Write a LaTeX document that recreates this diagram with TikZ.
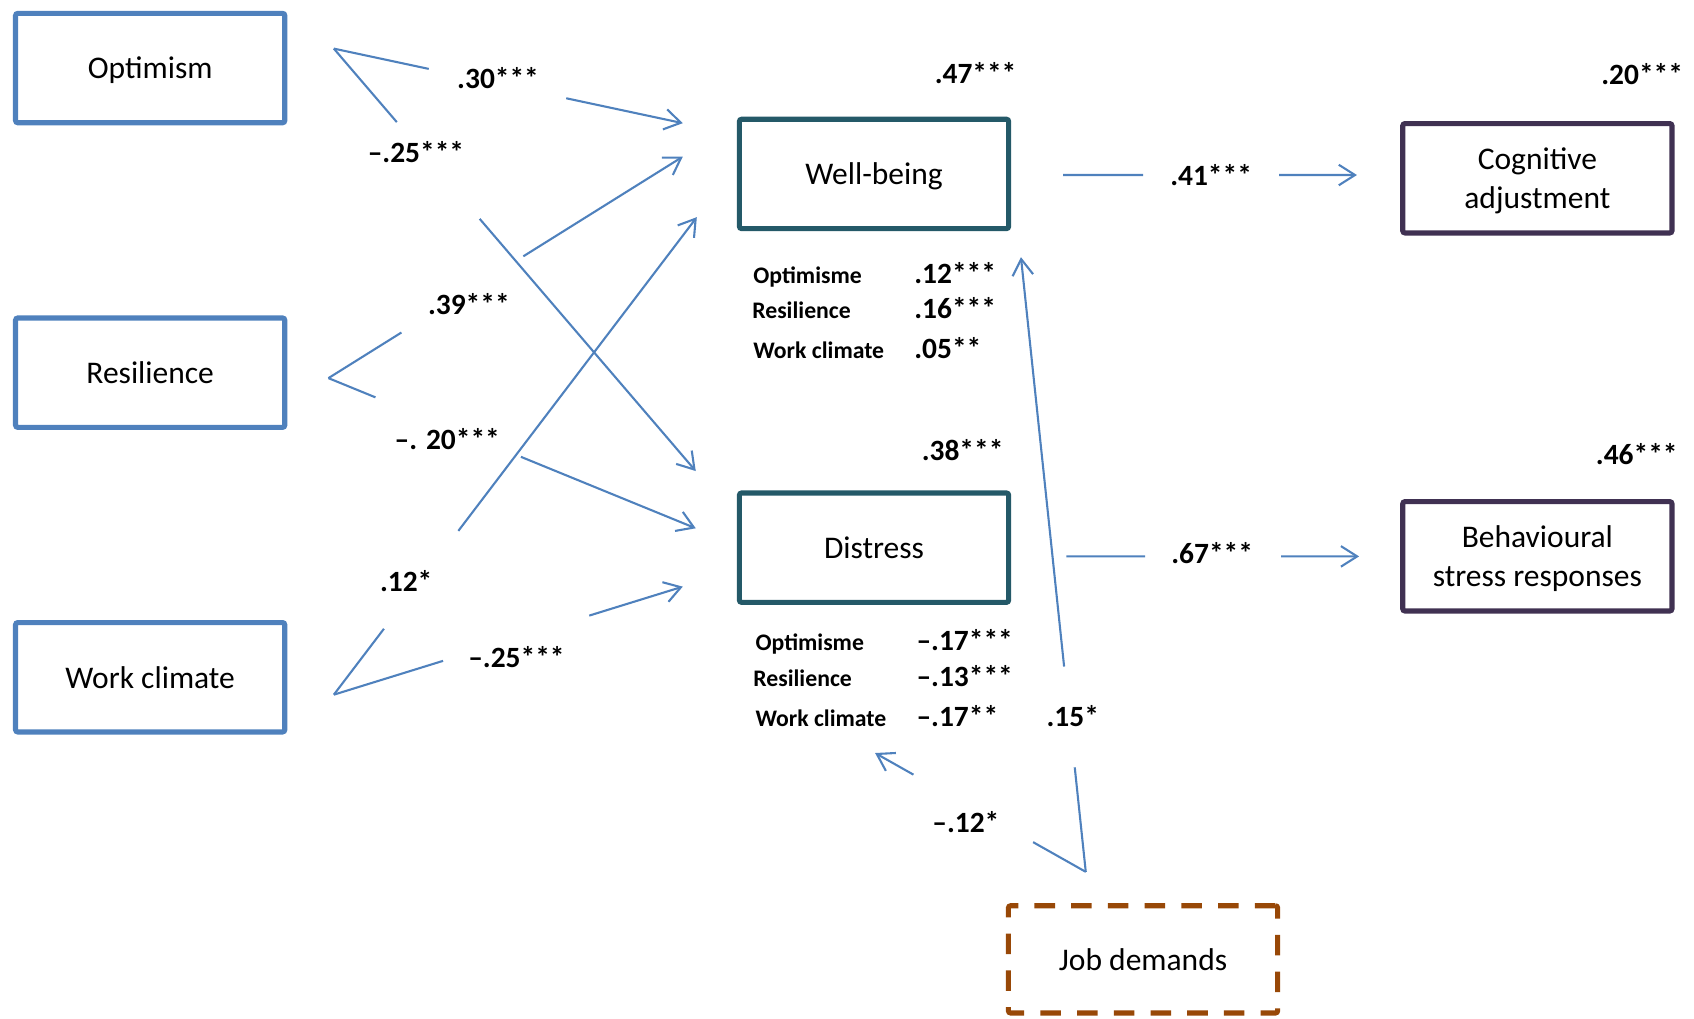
\documentclass[tikz,border=0pt]{standalone}
\usepackage{fontspec}
\setmainfont{Carlito}
\usetikzlibrary{arrows.meta,positioning,calc}
\definecolor{steel}{RGB}{79,129,189}
\definecolor{petrol}{RGB}{36,89,104}
\definecolor{grape}{RGB}{64,49,82}
\definecolor{rust}{RGB}{152,72,7}

\begin{document}
\begin{tikzpicture}[x=0.02cm,y=-0.02cm,node distance=3.52cm and 1cm,box/.style={draw=steel,line width=2.7pt,rounded corners=1.2pt,minimum width=4.985cm,minimum height=2.025cm,text depth=0pt,align=center,font=\fontsize{16.6}{20.4}\selectfont},medbox/.style={box,draw=petrol},outbox/.style={box,draw=grape},demand/.style={box,draw=rust,dash pattern=on 0.38cm off 0.3cm,minimum height=1.986cm},coef/.style={font=\bfseries\fontsize{15.5}{18}\selectfont,inner sep=0pt},pred/.style={font=\bfseries\fontsize{12.5}{15}\selectfont,anchor=base west,inner sep=0pt},val/.style={coef,anchor=base west},link/.style={draw=steel,line width=1.1pt},arrow/.style={link,-{Straight Barb[length=0.3cm,width=0.38cm]}}]
\useasboundingbox (0,0) rectangle (1568,943);
% boxes
\node[box] (opt) at (139,63) {Optimism};
\node[box,below=of opt] (res) {Resilience};
\node[box,below=of res] (wcl) {Work climate};
\node[medbox] (wb) at (809,161) {Well-being};
\node[medbox,below=4.8cm of wb] (dis) {Distress};
\node[outbox] (cog) at (1423,165) {Cognitive\\adjustment};
\node[outbox,below=4.88cm of cog] (beh) {Behavioural\\stress responses};
\node[demand] (job) at (1058,888) {Job demands};
% corners and arrow ends
\coordinate (vo) at (309,45); \coordinate (vr) at (304,350); \coordinate (vw) at (309,643); \coordinate (vj) at (1005,807);
\coordinate (wb1) at (632,114); \coordinate (wb2) at (632,145); \coordinate (wb3) at (645,201); \coordinate (wb4) at (945,238);
\coordinate (ds1) at (644,436); \coordinate (ds2) at (644,489); \coordinate (ds3) at (632,543); \coordinate (ds4) at (810,697);
\coordinate (wbo) at (984,162); \coordinate (cogi) at (1256,162); \coordinate (dso) at (987,515); \coordinate (behi) at (1258,515);
% paths, broken where the weights sit
\draw[link] (vo)--($(vo)!.272!(wb1)$); \draw[arrow] ($(vo)!.666!(wb1)$)--(wb1);
\draw[link] (vo)--($(vo)!.174!(ds1)$); \draw[arrow] ($(vo)!.403!(ds1)$)--(ds1);
\draw[link] (vr)--($(vr)!.206!(wb2)$); \draw[arrow] ($(vr)!.55!(wb2)$)--(wb2);
\draw[link] (vr)--($(vr)!.128!(ds2)$); \draw[arrow] ($(vr)!.524!(ds2)$)--(ds2);
\draw[link] (vw)--($(vw)!.138!(wb3)$); \draw[arrow] ($(vw)!.343!(wb3)$)--(wb3);
\draw[link] (vw)--($(vw)!.313!(ds3)$); \draw[arrow] ($(vw)!.732!(ds3)$)--(ds3);
\draw[link] (wbo)--($(wbo)!.272!(cogi)$); \draw[arrow] ($(wbo)!.735!(cogi)$)--(cogi);
\draw[link] (dso)--($(dso)!.269!(behi)$); \draw[arrow] ($(dso)!.734!(behi)$)--(behi);
\draw[link] (vj)--($(vj)!.17!(wb4)$); \draw[arrow] ($(vj)!.334!(wb4)$)--(wb4);
\draw[link] (vj)--($(vj)!.25!(ds4)$); \draw[arrow] ($(vj)!.818!(ds4)$)--(ds4);
% weights
\node[coef] (c30) at (461,72) {.30***};
\node[coef] (c25o) at (385,141) {–.25***};
\node[coef] (c39) at (434,281) {.39***};
\node[coef] (c20) at (414,406) {–. 20***};
\node[coef] (c12) at (376,538) {.12*};
\node[coef] (c25w) at (478,608) {–.25***};
\node[coef] (c41) at (1121,162) {.41***};
\node[coef] (c67) at (1122,512) {.67***};
\node[coef] (c15) at (993,663) {.15*};
\node[coef] (c12j) at (894,761) {–.12*};
% explained variance
\node[coef] (rwb) at (903,68) {.47***};
\node[coef] (rdis) at (891,417) {.38***};
\node[coef] (rcog) at (1520,69) {.20***};
\node[coef] (rbeh) at (1515,420) {.46***};
% indirect effects
\node[pred] (wbopt) at (697,262) {Optimisme}; \node[val] (wbv1) at (846,262) {.12***};
\node[pred] (wbres) at (696,295) {Resilience}; \node[val] (wbv2) at (846,295) {.16***};
\node[pred] (wbwcl) at (697,332) {Work climate}; \node[val] (wbv3) at (846,332) {.05**};
\node[pred] (dsopt) at (699,602) {Optimisme}; \node[val] (dsv1) at (848,602) {–.17***};
\node[pred] (dsres) at (697,635) {Resilience}; \node[val] (dsv2) at (848,635) {–.13***};
\node[pred] (dswcl) at (699,672) {Work climate}; \node[val] (dsv3) at (848,672) {–.17**};
\end{tikzpicture}
\end{document}
